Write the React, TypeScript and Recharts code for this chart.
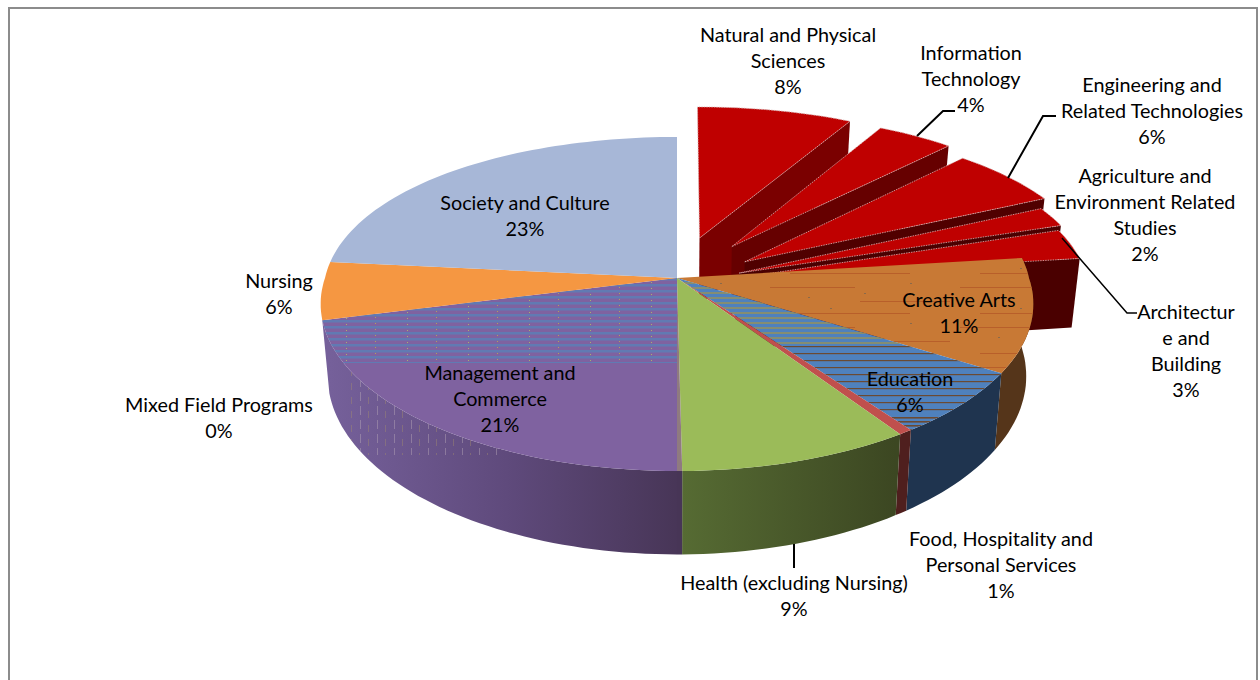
import { PieChart, Pie } from 'recharts';

const categories = [
  'Natural and Physical Sciences',
  'Information Technology',
  'Engineering and Related Technologies',
  'Agriculture and Environment Related Studies',
  'Architecture and Building',
  'Creative Arts',
  'Education',
  'Food, Hospitality and Personal Services',
  'Health (excluding Nursing)',
  'Mixed Field Programs',
  'Management and Commerce',
  'Nursing',
  'Society and Culture',
];
const shares = [8, 4, 6, 2, 3, 11, 6.15, 0.55, 9.1, 0.2, 21, 5.6, 23.4];
const data = categories.map((name, i) => ({ name, value: shares[i] }));

// styling and layout, looked up by position in the lists above
const topColors = ['#bf0000', '#bf0000', '#bf0000', '#bf0000', '#bf0000', '#c87935', '#4f81bd', '#c0504d', '#9bbb59', '#8f7a80', '#7f62a0', '#f59742', '#a7b7d7'];
const wallColors = ['#7a0000', '#660000', '#500000', '#4a0000', '#4a0000', '#55351a', '#1f344f', '#4f1f1e', 'url(#healthWall)', '#473556', 'url(#mgmtWall)', 'none', 'none'];
const explode = [0.263, 0.27, 0.24, 0.19, 0.17, 0, 0, 0, 0, 0, 0, 0, 0];
const explodeDrop = [0, 0.02, 0.04, 0.04, 0.04, 0, 0, 0, 0, 0, 0, 0, 0];
const textures: Record<number, { fill: string; clip?: string }[]> = {
  5: [{ fill: 'url(#creativeTex)' }],
  6: [
    { fill: 'url(#eduUpper)', clip: 'url(#bandEduUpper)' },
    { fill: 'url(#eduLower)', clip: 'url(#bandEduLower)' },
    { fill: 'url(#eduBottom)', clip: 'url(#bandEduBottom)' },
  ],
  10: [{ fill: 'url(#mgmtStripes)', clip: 'url(#bandMgmt)' }],
};
const wallTextures: Record<number, { fill: string; clip?: string }> = {
  10: { fill: 'url(#mgmtSpecks)', clip: 'url(#bandMgmtWall)' },
};
const labelWraps = [
  ['Natural and Physical', 'Sciences'],
  ['Information', 'Technology'],
  ['Engineering and', 'Related Technologies'],
  ['Agriculture and', 'Environment Related', 'Studies'],
  ['Architectur', 'e and', 'Building'],
  ['Creative Arts'],
  ['Education'],
  ['Food, Hospitality and', 'Personal Services'],
  ['Health (excluding Nursing)'],
  ['Mixed Field Programs'],
  ['Management and', 'Commerce'],
  ['Nursing'],
  ['Society and Culture'],
];
const labelAnchors = [
  [788, 35], [971, 53], [1152, 85], [1145, 176], [1186, 312], [959, 300], [910, 379],
  [1001, 539], [794, 583], [219, 405], [500, 373], [279, 281], [525, 203],
];
const leaders: Record<number, string> = {
  1: '917,136 943,111 955,111',
  2: '1008,178 1043,116 1056,116',
  4: '1062,238 1127,313 1137,313',
  8: '794,544 794,568',
};

const PERSPECTIVE = 0.1557;
const PERSPECTIVE_BACK_X = 0.1;
const LINE_HEIGHT = 26;

type Pt = [number, number];

// custom pie sector: the angles come from the Pie, this only lays them on a tilted disc
const projector = (cx: number, cy: number, r: number) => {
  const ry = r * 0.463;
  const depth = r * 0.2;
  const xScale = (v: number) => 1 - (v < 0 ? PERSPECTIVE_BACK_X : PERSPECTIVE) * v;
  return {
    top: (u: number, v: number): Pt => {
      const d = 1 - PERSPECTIVE * v;
      return [cx + (r * u) / xScale(v), cy + (ry * v) / d];
    },
    bottom: (u: number, v: number): Pt => {
      const d = 1 - PERSPECTIVE * v;
      return [cx + (0.98 * r * u) / xScale(v), cy + (ry * v + depth) / d];
    },
  };
};

const toPath = (pts: Pt[]) => 'M' + pts.map((p) => `${p[0].toFixed(1)},${p[1].toFixed(1)}`).join('L') + 'Z';

const arcAngles = (start: number, end: number) => {
  const steps = Math.max(2, Math.ceil(Math.abs(end - start) / 1.5));
  return Array.from({ length: steps + 1 }, (_, i) => ((start + ((end - start) * i) / steps) * Math.PI) / 180);
};

const sliceGeometry = (p: any) => {
  const { cx, cy, outerRadius, startAngle, endAngle } = p;
  const index = categories.indexOf(p.name ?? p.payload?.name);
  const proj = projector(cx, cy, outerRadius);
  const mid = (((startAngle + endAngle) / 2) * Math.PI) / 180;
  const e = explode[index];
  const ou = Math.cos(mid) * e;
  const ov = -Math.sin(mid) * e + explodeDrop[index];
  const angles = arcAngles(startAngle, endAngle);
  const topArc = angles.map((a) => proj.top(ou + Math.cos(a), ov - Math.sin(a)));
  const botArc = angles.map((a) => proj.bottom(ou + Math.cos(a), ov - Math.sin(a)));
  return { index, proj, ou, ov, topArc, botArc };
};

const RedSlice = (p: any) => {
  const { index, proj, ou, ov, topArc, botArc } = sliceGeometry(p);
  if (index > 4) return <g />;
  const apexTop = proj.top(ou, ov);
  const apexBot = proj.bottom(ou, ov);
  return (
    <g>
      <path d={toPath([apexTop, topArc[topArc.length - 1], botArc[botArc.length - 1], apexBot])} fill={wallColors[index]} />
      <path d={toPath([apexTop, ...topArc])} fill={topColors[index]} stroke="#d8b4b4" strokeWidth={0.8} strokeDasharray="1.5 1" />
    </g>
  );
};

const WallSlice = (p: any) => {
  const { index, topArc, botArc } = sliceGeometry(p);
  if (index < 5) return <g />;
  const d = toPath([...topArc, ...[...botArc].reverse()]);
  const tex = wallTextures[index];
  return (
    <g>
      <path d={d} fill={wallColors[index]} />
      {tex && <path d={d} fill={tex.fill} clipPath={tex.clip} />}
    </g>
  );
};

const TopSlice = (p: any) => {
  const { index, proj, topArc } = sliceGeometry(p);
  if (index < 5) return <g />;
  const d = toPath([proj.top(0, 0), ...topArc]);
  return (
    <g>
      <path d={d} fill={topColors[index]} />
      {(textures[index] ?? []).map((t, i) => (
        <path key={i} d={d} fill={t.fill} clipPath={t.clip} />
      ))}
    </g>
  );
};

const SliceLabel = (p: any) => {
  const index = categories.indexOf(p.name ?? p.payload?.name);
  const [x, y] = labelAnchors[index];
  const lines = [...labelWraps[index], `${Math.round(p.value)}%`];
  return (
    <g>
      {leaders[index] && <polyline points={leaders[index]} fill="none" stroke="#000" strokeWidth={index === 4 ? 1.5 : 2} />}
      <text x={x} y={y + 7} textAnchor="middle" fontFamily="Lato, sans-serif" fontSize={19.8} fill="#000">
        {lines.map((line, i) => (
          <tspan key={i} x={x} y={y + 7 + i * LINE_HEIGHT}>
            {line}
          </tspan>
        ))}
      </text>
    </g>
  );
};

const pieProps = {
  data,
  dataKey: 'value',
  nameKey: 'name',
  cx: 677,
  cy: 278,
  outerRadius: 352,
  startAngle: 90,
  endAngle: -270,
  isAnimationActive: false,
  stroke: 'none',
  labelLine: false,
};

const App = () => (
  <div style={{ position: 'fixed', left: 0, top: 0, width: 1260, height: 680, overflow: 'hidden', background: '#fff' }}>
    <div style={{ position: 'absolute', left: 8, top: 7, width: 1250, height: 760, border: '2px solid #8c8c8c', boxSizing: 'border-box' }} />
    <div style={{ position: 'absolute', left: 0, top: 0 }}>
      <PieChart width={1260} height={680} margin={{ top: 0, right: 0, bottom: 0, left: 0 }}>
        <defs>
          <linearGradient id="mgmtWall" gradientUnits="userSpaceOnUse" x1="330" y1="0" x2="683" y2="0">
            <stop offset="0" stopColor="#75609a" />
            <stop offset="0.5" stopColor="#5f4a7c" />
            <stop offset="1" stopColor="#473556" />
          </linearGradient>
          <linearGradient id="healthWall" gradientUnits="userSpaceOnUse" x1="683" y1="0" x2="895" y2="0">
            <stop offset="0" stopColor="#566b33" />
            <stop offset="1" stopColor="#3c4722" />
          </linearGradient>
          <pattern id="mgmtStripes" patternUnits="userSpaceOnUse" width="61" height="6">
            <rect y="2" width="61" height="2.5" fill="#5a7fb8" fillOpacity={0.8} />
            <rect x="9" y="5" width="1" height="1" fill="#b0a060" />
            <rect x="41" y="0" width="1" height="1" fill="#a8b070" />
          </pattern>
          <pattern id="mgmtSpecks" patternUnits="userSpaceOnUse" width="17" height="14">
            <rect x="3" y="0" width="1" height="9" fill="#b8a8b8" fillOpacity={0.45} />
            <rect x="11" y="5" width="1" height="7" fill="#a08a70" fillOpacity={0.45} />
          </pattern>
          <pattern id="eduUpper" patternUnits="userSpaceOnUse" width="9" height="5">
            <rect y="2" width="9" height="2" fill="#8d8f66" fillOpacity={0.85} />
          </pattern>
          <pattern id="eduLower" patternUnits="userSpaceOnUse" width="90" height="7">
            <rect x="0" y="3" width="90" height="1.2" fill="#6b4a32" />
          </pattern>
          <pattern id="eduBottom" patternUnits="userSpaceOnUse" width="90" height="4">
            <rect x="0" y="1" width="90" height="1.6" fill="#6b4a32" />
          </pattern>
          <pattern id="creativeTex" patternUnits="userSpaceOnUse" width="190" height="40">
            <rect x="10" y="7" width="85" height="1" fill="#b85f2a" />
            <rect x="100" y="21" width="90" height="1" fill="#b85f2a" />
            <rect x="30" y="33" width="120" height="1" fill="#b85f2a" />
            <rect x="104" y="13" width="2" height="1" fill="#8a6a4a" />
            <rect x="48" y="17" width="2" height="1" fill="#8a6a4a" />
            <rect x="150" y="3" width="2" height="1" fill="#8a6a4a" />
            <rect x="70" y="28" width="2" height="1" fill="#8a6a4a" />
          </pattern>
          <clipPath id="bandMgmt">
            <rect x="300" y="270" width="400" height="93" />
          </clipPath>
          <clipPath id="bandMgmtWall">
            <rect x="350" y="370" width="150" height="85" />
          </clipPath>
          <clipPath id="bandEduUpper">
            <rect x="660" y="270" width="360" height="75" />
          </clipPath>
          <clipPath id="bandEduLower">
            <rect x="660" y="345" width="360" height="70" />
          </clipPath>
          <clipPath id="bandEduBottom">
            <rect x="660" y="415" width="360" height="25" />
          </clipPath>
        </defs>
        <Pie {...pieProps} shape={RedSlice} />
        <Pie {...pieProps} shape={WallSlice} />
        <Pie {...pieProps} shape={TopSlice} label={SliceLabel} />
      </PieChart>
    </div>
  </div>
);

export default App;
